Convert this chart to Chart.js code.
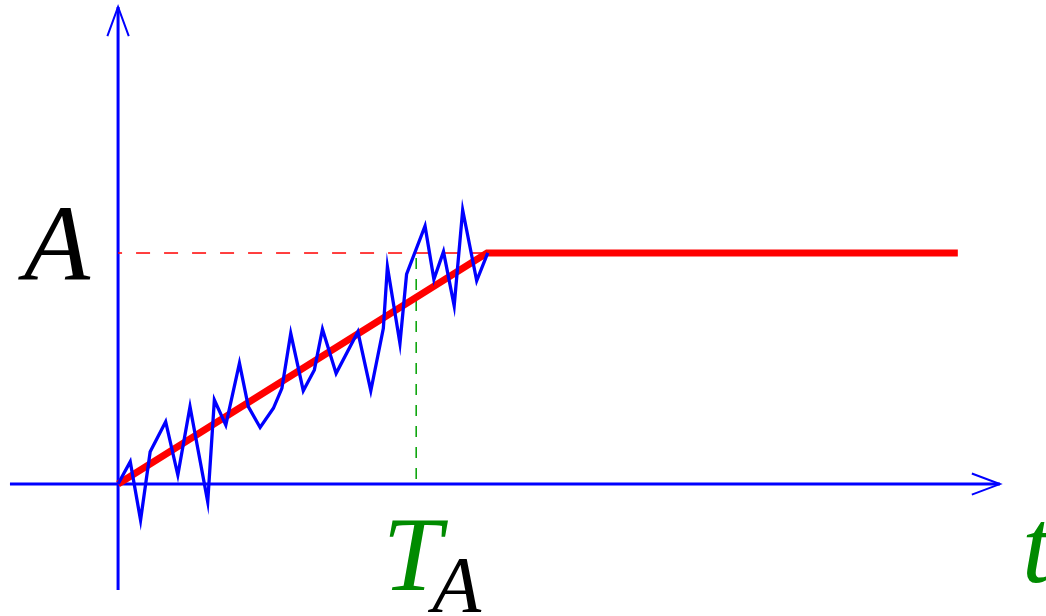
<!DOCTYPE html>
<html>
<head>
<meta charset="utf-8">
<title>Ramp towards A</title>
<script src="https://cdn.jsdelivr.net/npm/chart.js@4.4.0/dist/chart.umd.min.js"></script>
<style>
    html, body { margin: 0; padding: 0; background: #fff; overflow: hidden; }
    canvas { display: block; }
</style>
</head>
<body>
<canvas id="rampChart" width="1046" height="616"></canvas>
<script>
// Noisy signal
const noiseT = [0, 0.33, 0.61, 0.87, 1.29, 1.62, 1.95, 2.43, 2.61, 2.92, 3.29, 3.53, 3.85, 4.21, 4.44, 4.68, 5.02,
    5.32, 5.54, 5.91, 6.50, 6.85, 7.19, 7.30, 7.64, 7.82, 8.32, 8.56, 8.82, 9.11, 9.34, 9.72, 10.02];
const noiseA = [0, 0.97, -1.56, 1.40, 2.70, 0.39, 3.35, -0.77, 3.64, 2.55, 5.23, 3.35, 2.45, 3.28, 4.14, 6.52, 4.04,
    4.94, 6.70, 4.79, 6.59, 4.04, 6.74, 9.41, 6.09, 9.09, 11.17, 8.86, 10.06, 7.71, 11.86, 8.80, 10.01];

// Ramp then plateau
const rampT = [0, 10, 22.76];
const rampA = [0, 10, 10];

const levelA = 10;
const tA = 8.08;

// Axis extents (t axis, A axis)
const tAxisEnds = [-2.93, 23.9];
const aAxisEnds = [-4.59, 20.65];
const tArrowBack = 23.14, tArrowHalf = 0.455;
const aArrowBack = 19.39, aArrowHalf = 0.29;

const pts = (xs, ys) => xs.map((x, i) => ({ x: x, y: ys[i] }));

const BLUE = '#0000ff';
const RED = '#ff0000';
const GREEN = '#008b00';

const labelsPlugin = {
    id: 'labels',
    afterDraw(chart) {
        const c = chart.ctx;
        const xs = chart.scales.x, ys = chart.scales.y;
        c.save();
        c.textBaseline = 'alphabetic';
        c.font = 'italic 108px "Liberation Serif", serif';
        c.fillStyle = '#000';
        c.textAlign = 'right';
        c.fillText('A', xs.getPixelForValue(0) - 28, ys.getPixelForValue(levelA) + 27);

        // T with subscript A under the T_A marker
        const tx = xs.getPixelForValue(tA);
        c.textAlign = 'center';
        c.fillStyle = GREEN;
        c.font = 'italic 106px "Liberation Serif", serif';
        c.fillText('T', tx - 4, 590);
        c.textAlign = 'left';
        c.fillStyle = '#000';
        c.font = 'italic 80px "Liberation Serif", serif';
        c.fillText('A', tx + 16, 612);

        c.fillStyle = GREEN;
        c.font = 'italic 106px "Liberation Serif", serif';
        c.fillText('t', 1022, 582);
        c.restore();
    }
};

new Chart(document.getElementById('rampChart'), {
    type: 'line',
    data: {
        datasets: [{
            data: pts(noiseT, noiseA),
            borderColor: BLUE,
            borderWidth: 3.3,
            order: 0
        }, {
            data: pts(rampT, rampA),
            borderColor: RED,
            borderWidth: 7,
            order: 1
        }, {
            data: [{ x: 0, y: levelA }, { x: rampT[1], y: levelA }],
            borderColor: RED,
            borderWidth: 1.5,
            borderDash: [14, 14],
            borderDashOffset: 10,
            order: 2
        }, {
            data: [{ x: tA, y: 0 }, { x: tA, y: levelA }],
            borderColor: '#00a000',
            borderWidth: 1.5,
            borderDash: [11, 10],
            borderDashOffset: 16,
            order: 2
        }, {
            data: [{ x: tAxisEnds[0], y: 0 }, { x: tAxisEnds[1], y: 0 }],
            borderColor: BLUE,
            borderWidth: 3,
            order: 3
        }, {
            data: [{ x: 0, y: aAxisEnds[0] }, { x: 0, y: aAxisEnds[1] }],
            borderColor: BLUE,
            borderWidth: 3,
            order: 3
        }, {
            data: [{ x: tArrowBack, y: tArrowHalf }, { x: tAxisEnds[1], y: 0 }, { x: tArrowBack, y: -tArrowHalf }],
            borderColor: BLUE,
            borderWidth: 2,
            order: 3
        }, {
            data: [{ x: -aArrowHalf, y: aArrowBack }, { x: 0, y: aAxisEnds[1] }, { x: aArrowHalf, y: aArrowBack }],
            borderColor: BLUE,
            borderWidth: 2,
            order: 3
        }]
    },
    options: {
        responsive: false,
        animation: false,
        layout: { padding: 0 },
        elements: {
            point: { radius: 0, hoverRadius: 0 },
            line: { tension: 0, fill: false, borderJoinStyle: 'miter', borderCapStyle: 'butt' }
        },
        plugins: {
            legend: { display: false },
            tooltip: { enabled: false }
        },
        scales: {
            x: { type: 'linear', min: -3.2, max: 25.15, display: false },
            y: { type: 'linear', min: -5.71, max: 20.95, display: false }
        }
    },
    plugins: [labelsPlugin]
});
</script>
</body>
</html>
